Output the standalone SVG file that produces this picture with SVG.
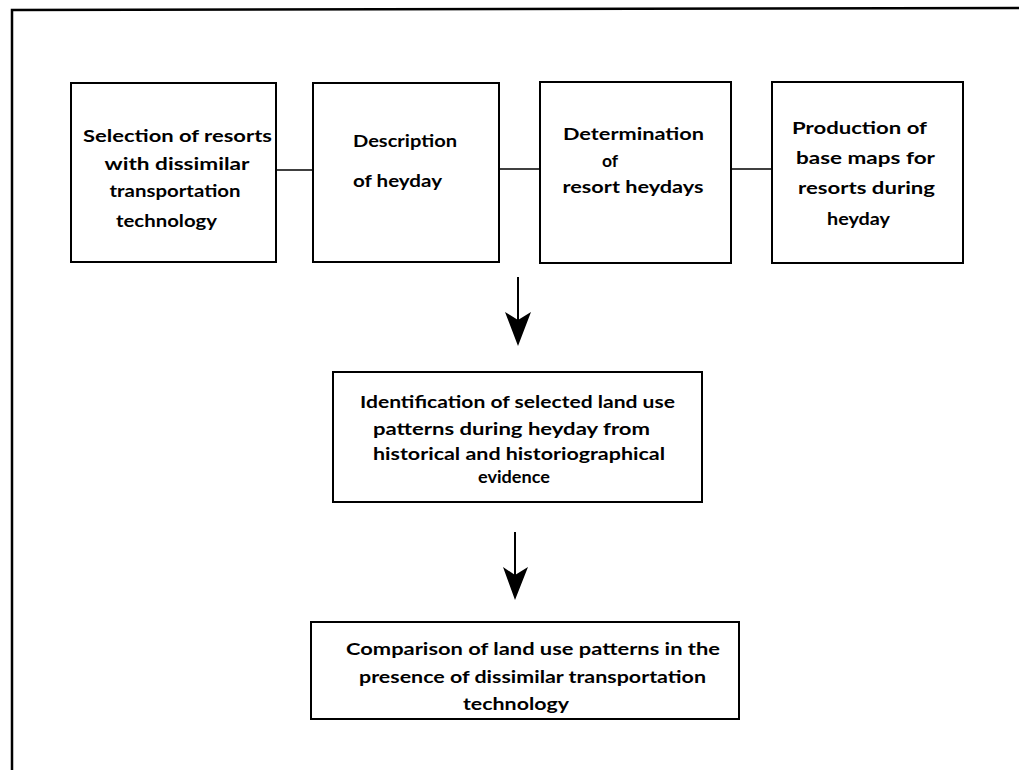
<svg xmlns="http://www.w3.org/2000/svg" width="1019" height="770" viewBox="0 0 1019 770">
  <style>
    .box { fill: #ffffff; stroke: #000000; stroke-width: 2; }
    .frame { fill: none; stroke: #000000; stroke-width: 2.5; }
    .link { fill: none; stroke: #000000; stroke-width: 1.6; }
    .shaft { fill: none; stroke: #000000; stroke-width: 2; }
    .head { fill: #000000; stroke: none; }
    text { font-family: "Lato", "Liberation Sans", sans-serif; font-weight: 700; font-size: 17.5px; fill: #000000; text-anchor: middle; }
  </style>
  <rect width="1019" height="770" fill="#ffffff"/>

  <!-- outer frame: only the top and left edges are drawn -->
  <path class="frame" d="M12,770 L12,10 L1019,8"/>

  <!-- connectors -->
  <g id="connectors">
    <line class="link" x1="276" y1="170" x2="313" y2="170"/>
    <line class="link" x1="499" y1="169" x2="540" y2="169"/>
    <line class="link" x1="731" y1="169" x2="772" y2="169"/>
    <line class="shaft" x1="518" y1="277" x2="518" y2="320"/>
    <path class="head" d="M518,346 L505,312 L518,320 L531,312 Z"/>
    <line class="shaft" x1="515" y1="532" x2="515" y2="575"/>
    <path class="head" d="M515,600 L503,567 L515,575 L528,567 Z"/>
  </g>

  <g id="node-selection">
    <rect class="box" x="71" y="83" width="205" height="179"/>
    <text x="177.5" y="142" textLength="189" lengthAdjust="spacingAndGlyphs">Selection of resorts</text>
    <text x="177" y="170" textLength="145" lengthAdjust="spacingAndGlyphs">with dissimilar</text>
    <text x="175" y="197" textLength="131" lengthAdjust="spacingAndGlyphs">transportation</text>
    <text x="166.5" y="227" textLength="101" lengthAdjust="spacingAndGlyphs">technology</text>
  </g>

  <g id="node-description">
    <rect class="box" x="313" y="83" width="186" height="179"/>
    <text x="405" y="147" textLength="104" lengthAdjust="spacingAndGlyphs">Description</text>
    <text x="397.5" y="187" textLength="89" lengthAdjust="spacingAndGlyphs">of heyday</text>
  </g>

  <g id="node-determination">
    <rect class="box" x="540" y="82" width="191" height="181"/>
    <text x="633.5" y="140" textLength="141" lengthAdjust="spacingAndGlyphs">Determination</text>
    <text x="610" y="167">of</text>
    <text x="633" y="193" textLength="141" lengthAdjust="spacingAndGlyphs">resort heydays</text>
  </g>

  <g id="node-production">
    <rect class="box" x="772" y="82" width="191" height="181"/>
    <text x="859.5" y="134" textLength="135" lengthAdjust="spacingAndGlyphs">Production of</text>
    <text x="865.5" y="164" textLength="139" lengthAdjust="spacingAndGlyphs">base maps for</text>
    <text x="866.5" y="194" textLength="137" lengthAdjust="spacingAndGlyphs">resorts during</text>
    <text x="858.5" y="225" textLength="63" lengthAdjust="spacingAndGlyphs">heyday</text>
  </g>

  <g id="node-identification">
    <rect class="box" x="333" y="372" width="369" height="130"/>
    <text x="517.5" y="408" textLength="315" lengthAdjust="spacingAndGlyphs">Identification of selected land use</text>
    <text x="511.5" y="435" textLength="277" lengthAdjust="spacingAndGlyphs">patterns during heyday from</text>
    <text x="519" y="460" textLength="292" lengthAdjust="spacingAndGlyphs">historical and historiographical</text>
    <text x="514" y="483" textLength="72" lengthAdjust="spacingAndGlyphs">evidence</text>
  </g>

  <g id="node-comparison">
    <rect class="box" x="311" y="622" width="428" height="97"/>
    <text x="533" y="655" textLength="374" lengthAdjust="spacingAndGlyphs">Comparison of land use patterns in the</text>
    <text x="532.5" y="683" textLength="347" lengthAdjust="spacingAndGlyphs">presence of dissimilar transportation</text>
    <text x="516" y="710" textLength="106" lengthAdjust="spacingAndGlyphs">technology</text>
  </g>
</svg>
